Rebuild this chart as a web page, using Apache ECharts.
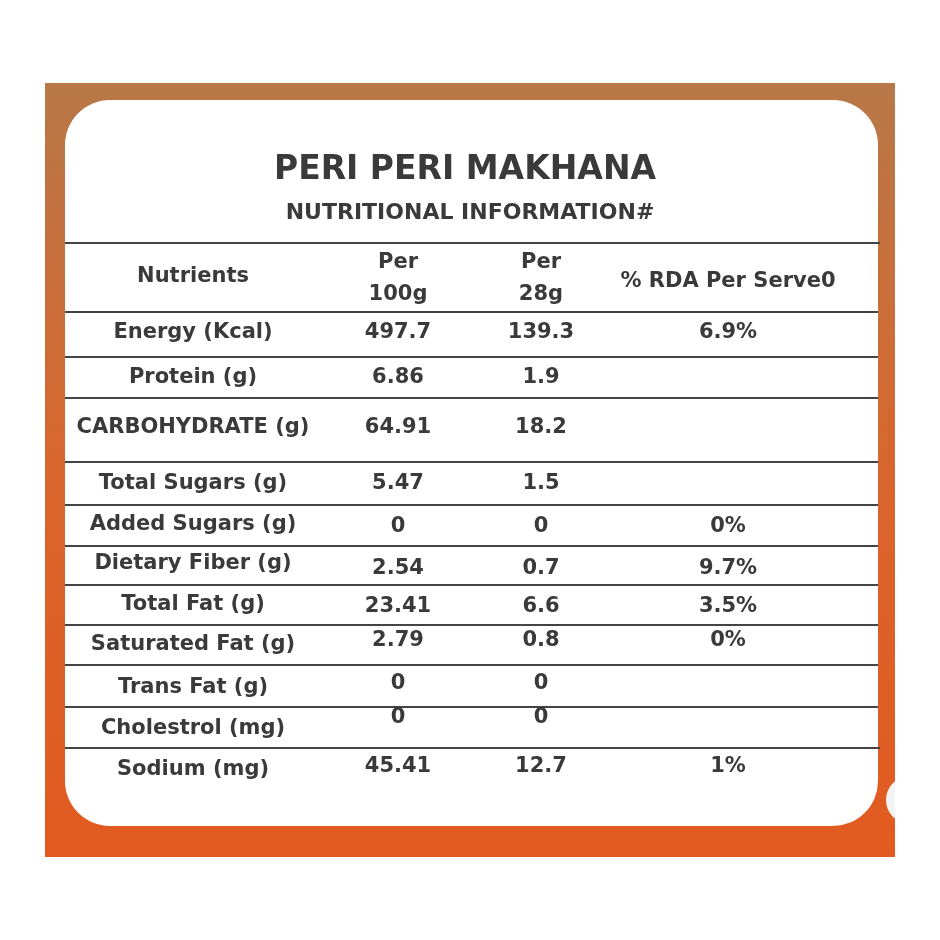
<!DOCTYPE html>
<html><head><meta charset="utf-8">
<script src="https://cdn.jsdelivr.net/npm/echarts@6/dist/echarts.min.js"></script>
<style>html,body{margin:0;background:#fff}#c{width:940px;height:940px}</style>
</head><body><div id="c"></div>
<script>
const title = "PERI PERI MAKHANA";
const subtitle = "NUTRITIONAL INFORMATION#";
const headers = ["Nutrients", "Per\n100g", "Per\n28g", "% RDA Per Serve0"];
const nutrients = ["Energy (Kcal)","Protein (g)","CARBOHYDRATE (g)","Total Sugars (g)","Added Sugars (g)","Dietary Fiber (g)","Total Fat (g)","Saturated Fat (g)","Trans Fat (g)","Cholestrol (mg)","Sodium (mg)"];
const per100g = ["497.7","6.86","64.91","5.47","0","2.54","23.41","2.79","0","0","45.41"];
const per28g = ["139.3","1.9","18.2","1.5","0","0.7","6.6","0.8","0","0","12.7"];
const rda = ["6.9%","","","","0%","9.7%","3.5%","0%","","","1%"];

const lineY = [243,312,357,398,462,505,546,585,625,665,707,748];
const nameY = [333,378,428,484,525,564,605,645,688,729,770];
const valY  = [333,378,428,484,527,569,607,641,684,718,767];
const colX = [193,398,541,728];
const col = "#3a3a3a";
const ff = '"DejaVu Sans", sans-serif';
const font = 'bold 21px ' + ff;

const g = [];
g.push({type:'rect',shape:{x:45,y:83,width:850,height:774},style:{fill:new echarts.graphic.LinearGradient(0,0,0,1,[{offset:0,color:'#b87848'},{offset:0.5,color:'#d8662e'},{offset:1,color:'#e25a20'}])}});
g.push({type:'rect',shape:{x:65,y:100,width:813,height:726,r:45},style:{fill:'#fff'}});
g.push({type:'circle',shape:{cx:910,cy:800,r:24},style:{fill:'#f4f4f4'}});
g.push({type:'rect',shape:{x:895,y:760,width:45,height:80},style:{fill:'#fff'}});
g.push({type:'text',x:465,y:170,style:{text:title,font:'bold 33px ' + ff,fill:col,align:'center',verticalAlign:'middle'}});
g.push({type:'text',x:470,y:213,style:{text:subtitle,font:'bold 22px ' + ff,fill:col,align:'center',verticalAlign:'middle'}});
lineY.forEach((y,i)=>g.push({type:'line',shape:{x1:65,y1:y,x2:i===0||i===lineY.length-1?880:878,y2:y},style:{stroke:'#444',lineWidth:2}}));
g.push({type:'text',x:colX[0],y:277,style:{text:headers[0],font,fill:col,align:'center',verticalAlign:'middle'}});
g.push({type:'text',x:colX[1],y:279,style:{text:headers[1],font,fill:col,align:'center',verticalAlign:'middle',lineHeight:32}});
g.push({type:'text',x:colX[2],y:279,style:{text:headers[2],font,fill:col,align:'center',verticalAlign:'middle',lineHeight:32}});
g.push({type:'text',x:colX[3],y:282,style:{text:headers[3],font,fill:col,align:'center',verticalAlign:'middle'}});
nutrients.forEach((n,i)=>{
  g.push({type:'text',x:colX[0],y:nameY[i],style:{text:n,font,fill:col,align:'center',verticalAlign:'middle'}});
  g.push({type:'text',x:colX[1],y:valY[i],style:{text:per100g[i],font,fill:col,align:'center',verticalAlign:'middle'}});
  g.push({type:'text',x:colX[2],y:valY[i],style:{text:per28g[i],font,fill:col,align:'center',verticalAlign:'middle'}});
  if(rda[i]) g.push({type:'text',x:colX[3],y:valY[i],style:{text:rda[i],font,fill:col,align:'center',verticalAlign:'middle'}});
});
const chart = echarts.init(document.getElementById('c'));
chart.setOption({animation:false,graphic:g});
</script></body></html>
